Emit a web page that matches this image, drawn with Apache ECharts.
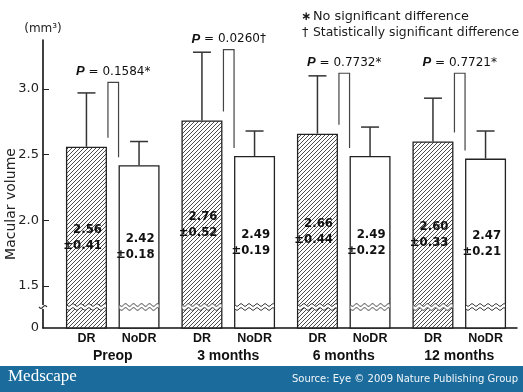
<!DOCTYPE html>
<html><head><meta charset="utf-8">
<script src="https://cdn.jsdelivr.net/npm/echarts@6/dist/echarts.min.js"></script>
<style>html,body{margin:0;padding:0;background:#fff}#c{width:523px;height:392px}</style>
</head><body><div id="c"></div>
<script>
// ---- data ----
const categories = ['Preop', '3 months', '6 months', '12 months'];
const groupNames = ['DR', 'NoDR'];
const drMean = [2.56, 2.76, 2.66, 2.60];
const drSD = [0.41, 0.52, 0.44, 0.33];
const noDrMean = [2.42, 2.49, 2.49, 2.47];
const noDrSD = [0.18, 0.19, 0.22, 0.21];
const pValues = ['0.1584*', '0.0260\u2020', '0.7732*', '0.7721*'];
const bracketTop = [3.05, 3.30, 3.12, 3.12];
const yTickValues = [1.5, 2.0, 2.5, 3.0];
const yAxisBase = 1.18;   // drawn as "0" (broken axis)
const yBreak = 1.34;      // where the break marks sit
const yMax = 3.373;
const legendLines = ['No significant difference', 'Statistically significant difference'];
const legendMarks = ['\u2217', '\u2020'];

// ---- style ----
const BAR_W = 41, GAP = 11.6, HALF = (BAR_W + GAP) / 2;
const SANS = "'DejaVu Sans', sans-serif";
const BOLD = "'Liberation Sans', Arial, sans-serif";

function hatch() {
  const n = 4;
  const c = document.createElement('canvas'); c.width = n; c.height = n;
  const g = c.getContext('2d');
  g.fillStyle = '#fff'; g.fillRect(0, 0, n, n);
  g.strokeStyle = '#3a3a3a'; g.lineWidth = 0.9;
  [-n, 0, n].forEach(dx => {
    g.beginPath(); g.moveTo(dx - 1, n + 1); g.lineTo(dx + n + 1, -1); g.stroke();
  });
  return c;
}

function wave(x0, x1, yc, amp, period) {
  const pts = [];
  for (let x = x0; x <= x1 + 0.01; x += 1) pts.push([x, yc + amp * Math.sin(2 * Math.PI * (x - x0) / period)]);
  return pts;
}

const chart = echarts.init(document.getElementById('c'), null, { renderer: 'canvas' });

const labelStyle = {
  show: true, position: 'insideRight', distance: 5,
  fontFamily: "'DejaVu Sans Condensed', 'DejaVu Sans', sans-serif", fontWeight: 'bold',
  fontSize: 13, lineHeight: 16, color: '#111', align: 'right'
};

chart.setOption({
  animation: false,
  backgroundColor: '#fff',
  grid: [
    { left: 55, right: 6, top: 40, bottom: 64 },
    { left: 43, right: 6, top: 40, bottom: 64 }
  ],
  xAxis: [
    {
      type: 'category', gridIndex: 0, data: categories,
      axisLine: { show: false }, axisTick: { show: false },
      axisLabel: {
        margin: 2, interval: 0,
        formatter: v => '{a|' + groupNames[0] + '}{b|' + groupNames[1] + '}\n{c|' + v + '}',
        rich: {
          a: { width: BAR_W + GAP, align: 'center', fontFamily: BOLD, fontWeight: 'bold', fontSize: 12.5, lineHeight: 17, color: '#111' },
          b: { width: BAR_W + GAP, align: 'center', fontFamily: BOLD, fontWeight: 'bold', fontSize: 12.5, lineHeight: 17, color: '#111' },
          c: { align: 'center', fontFamily: BOLD, fontWeight: 'bold', fontSize: 14, lineHeight: 18, color: '#111' }
        }
      }
    },
    {
      type: 'value', gridIndex: 1, min: 0, max: 1,
      axisLine: { show: true, lineStyle: { color: '#111', width: 1.5 } },
      axisTick: { show: false }, axisLabel: { show: false }, splitLine: { show: false }
    }
  ],
  yAxis: [
    { type: 'value', gridIndex: 0, min: yAxisBase, max: yMax, show: false, splitLine: { show: false } },
    {
      type: 'value', gridIndex: 1, min: yAxisBase, max: yMax,
      name: '(mm\u00b3)', nameLocation: 'end', nameGap: 5,
      nameTextStyle: { fontFamily: SANS, fontSize: 12, color: '#222', align: 'center' },
      axisLine: { show: true, lineStyle: { color: '#111', width: 1.6 } },
      axisTick: { show: true, inside: true, length: 6, customValues: yTickValues, lineStyle: { color: '#222', width: 1 } },
      axisLabel: {
        customValues: [yAxisBase].concat(yTickValues), margin: 4,
        formatter: v => (v < yAxisBase + 0.01 ? '0' : v.toFixed(1)),
        fontFamily: SANS, fontSize: 13, color: '#222'
      },
      splitLine: { show: false }
    }
  ],
  graphic: [
    { type: 'text', x: 11, y: 204, rotation: Math.PI / 2,
      style: { text: 'Macular volume', font: '14px ' + SANS, fill: '#222', align: 'center', verticalAlign: 'middle' } },
    { type: 'text', x: 301, y: 17,
      style: { text: legendMarks[0], align: 'left', verticalAlign: 'middle', font: 'bold 12px ' + SANS, fill: '#1a1a1a' } },
    { type: 'text', x: 313, y: 17,
      style: { text: legendLines[0], align: 'left', verticalAlign: 'middle', font: '12.8px ' + SANS, fill: '#1a1a1a' } },
    { type: 'text', x: 302, y: 33,
      style: { text: legendMarks[1], align: 'left', verticalAlign: 'middle', font: '12.8px ' + SANS, fill: '#1a1a1a' } },
    { type: 'text', x: 313, y: 33,
      style: { text: legendLines[1], align: 'left', verticalAlign: 'middle', font: '12.4px ' + SANS, fill: '#1a1a1a' } },
    { type: 'rect', left: 0, bottom: 0, shape: { width: 523, height: 26 }, style: { fill: '#1b6c9c' } },
    { type: 'text', left: 8, top: 368, style: { text: 'Medscape', font: '17px "Liberation Serif", "DejaVu Serif", serif', fill: '#fff' } },
    { type: 'text', right: 5, top: 374, style: { text: 'Source: Eye \u00a9 2009 Nature Publishing Group', font: '10px ' + SANS, fill: '#f2f6fa' } }
  ],
  series: [
    {
      type: 'bar', name: groupNames[0], xAxisIndex: 0, yAxisIndex: 0, data: drMean,
      barWidth: BAR_W, barGap: (GAP / BAR_W * 100).toFixed(1) + '%',
      itemStyle: { color: { image: hatch(), repeat: 'repeat' }, borderColor: '#222', borderWidth: 1.3 },
      label: Object.assign({}, labelStyle, { formatter: p => p.value.toFixed(2) + '\n\u00b1' + drSD[p.dataIndex].toFixed(2) }),
      z: 2
    },
    {
      type: 'bar', name: groupNames[1], xAxisIndex: 0, yAxisIndex: 0, data: noDrMean,
      barWidth: BAR_W,
      itemStyle: { color: '#fff', borderColor: '#222', borderWidth: 1.3 },
      label: Object.assign({}, labelStyle, { formatter: p => p.value.toFixed(2) + '\n\u00b1' + noDrSD[p.dataIndex].toFixed(2) }),
      z: 2
    },
    // error whiskers (upper only)
    {
      type: 'custom', xAxisIndex: 0, yAxisIndex: 0, z: 3, silent: true,
      data: categories.map((c, i) => [i, drMean[i], drSD[i], noDrMean[i], noDrSD[i]]),
      renderItem: (params, api) => {
        const i = api.value(0);
        const kids = [];
        [[api.value(1), api.value(2), -HALF], [api.value(3), api.value(4), HALF]].forEach(([m, s, off]) => {
          const b = api.coord([i, m]), t = api.coord([i, m + s]);
          const x = b[0] + off;
          kids.push({ type: 'line', shape: { x1: x, y1: b[1], x2: x, y2: t[1] }, style: { stroke: '#333', lineWidth: 1.5 } });
          kids.push({ type: 'line', shape: { x1: x - 9, y1: t[1], x2: x + 9, y2: t[1] }, style: { stroke: '#333', lineWidth: 1.5 } });
        });
        return { type: 'group', children: kids };
      }
    },
    // P-value brackets
    {
      type: 'custom', xAxisIndex: 0, yAxisIndex: 0, z: 3, silent: true,
      data: categories.map((c, i) => [i, drMean[i], noDrMean[i], bracketTop[i]]),
      renderItem: (params, api) => {
        const i = api.value(0);
        const c = api.coord([i, api.value(3)]);
        const dTop = api.coord([i, api.value(1)])[1];
        const nTop = api.coord([i, api.value(2)])[1];
        const xl = c[0] - HALF + BAR_W / 2 + 1, xr = c[0] + HALF - BAR_W / 2;
        return { type: 'group', children: [
          { type: 'polyline', shape: { points: [[xl, dTop - 9], [xl, c[1]], [xr, c[1]], [xr, nTop - 8]] },
            style: { stroke: '#444', lineWidth: 1.2, fill: null } },
          { type: 'text', x: (xl + xr) / 2, y: c[1] - 10.5,
            style: { text: '{p|P}{t| = ' + pValues[params.dataIndex] + '}', align: 'center', verticalAlign: 'middle',
              rich: { p: { font: 'italic bold 13px ' + BOLD, fill: '#111' }, t: { font: '12px ' + SANS, fill: '#111' } } } }
        ] };
      }
    },
    // break marks across the bars
    {
      type: 'custom', xAxisIndex: 0, yAxisIndex: 0, z: 4, silent: true,
      data: categories.map((c, i) => [i, yBreak]),
      renderItem: (params, api) => {
        const p = api.coord([api.value(0), api.value(1)]);
        const kids = [];
        [-HALF, HALF].forEach(off => {
          const x0 = p[0] + off - BAR_W / 2 + 1, x1 = p[0] + off + BAR_W / 2 - 1;
          const up = wave(x0, x1, p[1] - 2, 1.3, 8), dn = wave(x0, x1, p[1] + 2, 1.3, 8);
          kids.push({ type: 'polygon', shape: { points: up.concat(dn.slice().reverse()) }, style: { fill: '#fff' } });
          kids.push({ type: 'polyline', shape: { points: up }, style: { stroke: '#333', lineWidth: 1, fill: null } });
          kids.push({ type: 'polyline', shape: { points: dn }, style: { stroke: '#333', lineWidth: 1, fill: null } });
        });
        return { type: 'group', children: kids };
      }
    },
    // break mark on the y axis
    {
      type: 'custom', xAxisIndex: 1, yAxisIndex: 1, z: 4, silent: true,
      data: [[0, yBreak]],
      renderItem: (params, api) => {
        const p = api.coord([api.value(0), api.value(1)]);
        return { type: 'group', children: [
          { type: 'rect', shape: { x: p[0] - 2, y: p[1] - 2, width: 4, height: 4 }, style: { fill: '#fff' } },
          { type: 'polyline', shape: { points: wave(p[0] - 4, p[0] + 4, p[1], 1.5, 8) }, style: { stroke: '#222', lineWidth: 1.1, fill: null } }
        ] };
      }
    }
  ]
});
</script>
</body></html>
